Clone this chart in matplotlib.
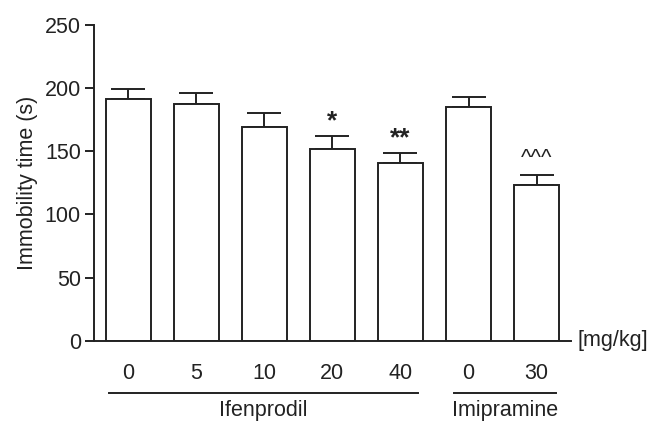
import matplotlib
matplotlib.use("Agg")
from matplotlib import pyplot as plt
from matplotlib import transforms
import numpy as np

# data
doses = ["0", "5", "10", "20", "40", "0", "30"]
immobility = [191, 187, 169, 152, 141, 185, 123]
sem = [8, 9, 11, 10, 7.5, 7.5, 8.5]
marks = ["", "", "", "*", "**", "", "^^^"]
groups = ["Ifenprodil", "Imipramine"]
group_span = [(0, 4), (5, 6)]

plt.rcParams['font.family'] = ['Liberation Sans', 'DejaVu Sans']
ink = "#222222"
fs = 15.5

fig = plt.figure(figsize=(6.52, 4.23), dpi=100)
ax = fig.add_axes([0.1442, 0.1939, 0.8753 - 0.1442, 0.942 - 0.1939])

x = np.arange(len(doses))
ax.errorbar(x, immobility, yerr=[np.zeros(len(sem)), sem], fmt="none",
            ecolor=ink, elinewidth=1.4, capsize=12, capthick=1.4, zorder=1)
ax.bar(x, immobility, width=0.66, color="white", edgecolor=ink,
       linewidth=1.4, zorder=2)

for xi, v, s, m in zip(x, immobility, sem, marks):
    if m == "*" or m == "**":
        ax.text(xi, v + s + 2, m, ha="center", va="bottom", fontsize=19,
                color=ink, fontweight="bold")
    elif m:
        ax.text(xi, v + s + 4, m, ha="center", va="bottom", fontsize=16,
                color=ink)

ax.set_xlim(-0.5, 6.5)
ax.set_ylim(0, 250)
ax.set_yticks([0, 50, 100, 150, 200, 250])
ax.set_xticks(x)
ax.set_xticklabels(doses)
ax.tick_params(axis="x", length=0, pad=16, labelsize=fs, colors=ink)
ax.tick_params(axis="y", length=6.5, width=1.4, labelsize=fs, colors=ink, pad=3)
ax.set_ylabel("Immobility time (s)", fontsize=fs, color=ink, labelpad=5)

for side in ["top", "right"]:
    ax.spines[side].set_visible(False)
for side in ["left", "bottom"]:
    ax.spines[side].set_linewidth(1.4)
    ax.spines[side].set_color(ink)

ax.text(1.015, 0, "[mg/kg]", transform=ax.transAxes, ha="left", va="center",
        fontsize=fs, color=ink)

trans = transforms.blended_transform_factory(ax.transData, ax.transAxes)
line_pad = [(0.28, 0.26), (0.21, 0.28)]
for name, (a, b), (pl, pr) in zip(groups, group_span, line_pad):
    ax.plot([a - pl, b + pr], [-0.165, -0.165], transform=trans,
            color=ink, linewidth=1.4, clip_on=False)
    ax.text((a - pl + b + pr) / 2, -0.238, name, transform=trans,
            ha="center", va="baseline", fontsize=fs, color=ink)

fig.savefig("out.png", dpi=100)
